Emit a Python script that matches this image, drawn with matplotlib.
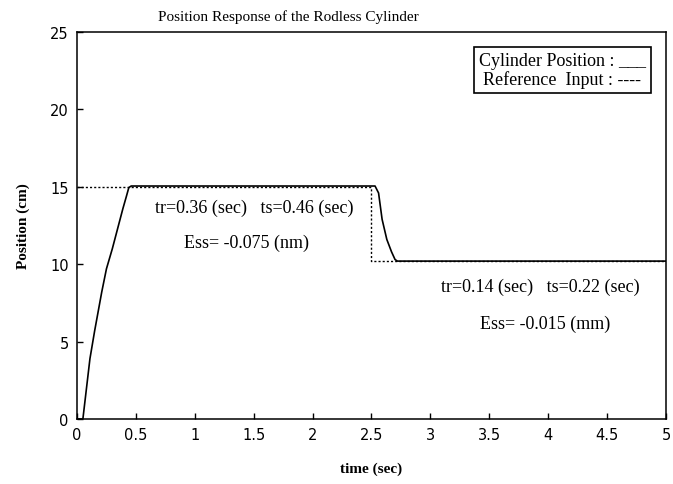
import numpy as np
import matplotlib
matplotlib.use("Agg")
import matplotlib.pyplot as plt

# cylinder position (solid)
t_pos = [0.0, 0.05, 0.11, 0.15, 0.21, 0.25, 0.30, 0.39, 0.42, 0.44, 0.46,
         2.53, 2.56, 2.59, 2.63, 2.67, 2.70, 2.72, 5.0]
y_pos = [0.0, 0.0, 3.9, 5.7, 8.2, 9.7, 11.0, 13.6, 14.4, 14.95, 15.05,
         15.05, 14.6, 12.9, 11.6, 10.8, 10.3, 10.2, 10.2]

# reference input (dotted)
t_ref = [0.0, 2.50, 2.50, 5.0]
y_ref = [15.0, 15.0, 10.2, 10.2]

xticks = [0, 0.5, 1, 1.5, 2, 2.5, 3, 3.5, 4, 4.5, 5]
xticklabels = ["0", "0.5", "1", "1.5", "2", "2.5", "3", "3.5", "4", "4.5", "5"]
yticks = [0, 5, 10, 15, 20, 25]

serif = "Liberation Serif"

fig = plt.figure(figsize=(6.73, 4.85), dpi=100)
ax = fig.add_axes([0.1144, 0.134, 0.8752, 0.798])

ax.plot(t_pos, y_pos, color="black", lw=1.2)
ax.plot(t_ref, y_ref, color="black", lw=1.0, linestyle=(0, (1.5, 1.5)))

ax.set_xlim(0, 5)
ax.set_ylim(0, 25)
ax.set_xticks(xticks)
ax.set_xticklabels(xticklabels)
ax.set_yticks(yticks)
ax.tick_params(direction="in", length=4, width=1, labelsize=10.5, pad=6)
for s in ax.spines.values():
    s.set_linewidth(1.1)

# title sits left of centre in the original
fig.text(288 / 673, 1 - 17 / 485, "Position Response of the Rodless Cylinder",
         family=serif, fontsize=11, ha="center", va="center")
ax.set_xlabel("time (sec)", family=serif, fontsize=11, fontweight="bold",
              labelpad=14)
ax.set_ylabel("Position (cm)", family=serif, fontsize=11, fontweight="bold",
              labelpad=14)

# annotations
ax.text(0.66, 13.7, "tr=0.36 (sec)   ts=0.46 (sec)", family=serif,
        fontsize=13, va="center")
ax.text(1.44, 11.4, "Ess= -0.075 (nm)", family=serif, fontsize=13,
        ha="center", va="center")
ax.text(3.09, 8.6, "tr=0.14 (sec)   ts=0.22 (sec)", family=serif,
        fontsize=13, va="center")
ax.text(3.97, 6.2, "Ess= -0.015 (mm)", family=serif, fontsize=13,
        ha="center", va="center")

# legend box drawn as text
ax.text(0.966, 0.948, "Cylinder Position : ___\nReference  Input : ----",
        transform=ax.transAxes, family=serif, fontsize=13, ha="right",
        va="top", multialignment="center", linespacing=1.05,
        bbox=dict(boxstyle="square,pad=0.3", fc="white", ec="black", lw=1.2))

fig.savefig("out.png", dpi=100)
